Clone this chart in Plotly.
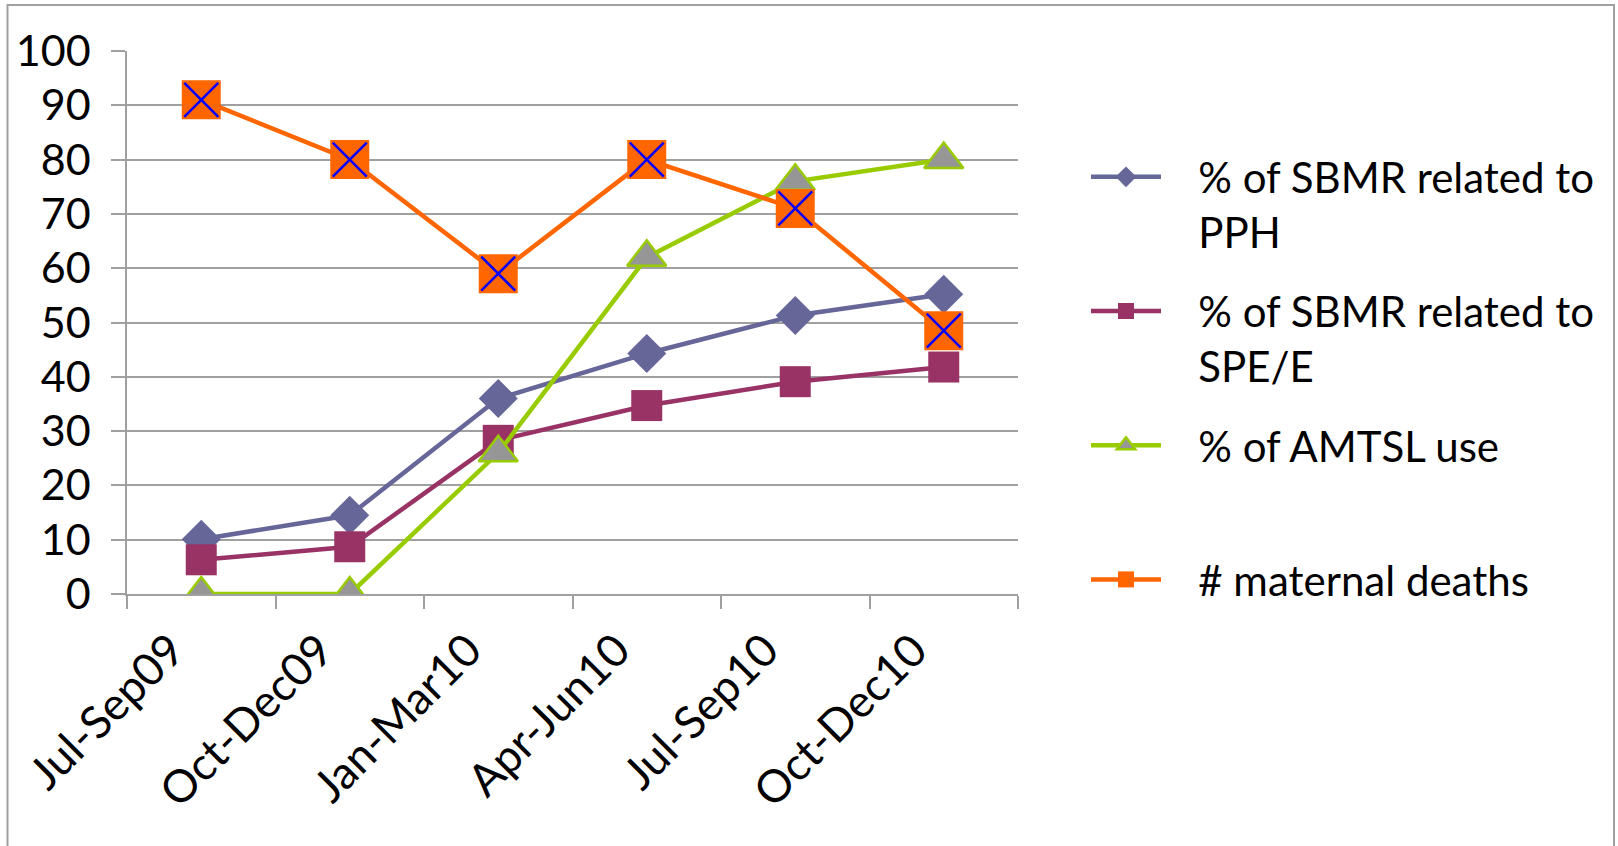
import plotly.graph_objects as go

categories = ["Jul-Sep09", "Oct-Dec09", "Jan-Mar10", "Apr-Jun10", "Jul-Sep10", "Oct-Dec10"]
pph = [10.1, 14.5, 36.0, 44.3, 51.3, 55.2]
spe = [6.3, 8.7, 28.3, 34.7, 39.1, 41.8]
amtsl = [0, 0, 26, 62, 76, 80]
deaths = [91, 80, 59, 80, 71, 48.5]
y_ticks = [0, 10, 20, 30, 40, 50, 60, 70, 80, 90, 100]

PAD = "   "
names = [PAD + "% of SBMR related to<br>" + PAD + "PPH",
         PAD + "% of SBMR related to<br>" + PAD + "SPE/E",
         PAD + "% of AMTSL use<br> ",
         PAD + "# maternal deaths"]

W, H = 1618, 846
L, R, T, B = 127, 1018, 51, 594
FONT = "Lato"
LW = 4.5

fig = go.Figure()
fig.add_trace(go.Scatter(x=categories, y=pph, name=names[0], mode="lines+markers",
                         line=dict(color="#666699", width=LW),
                         marker=dict(symbol="diamond", size=30, color="#666699"),
                         legendgroup="a"))
fig.add_trace(go.Scatter(x=categories, y=spe, name=names[1], mode="lines+markers",
                         line=dict(color="#993366", width=LW),
                         marker=dict(symbol="square", size=31, color="#993366"),
                         legendgroup="b"))
fig.add_trace(go.Scatter(x=categories, y=amtsl, name=names[2], mode="lines+markers",
                         line=dict(color="#99CC00", width=LW),
                         marker=dict(symbol="triangle-up", size=34, color="#969696",
                                     line=dict(color="#99CC00", width=2.5)),
                         legendgroup="c"))
fig.add_trace(go.Scatter(x=categories, y=deaths, name=names[3], mode="lines+markers",
                         line=dict(color="#FF6600", width=LW),
                         marker=dict(symbol="square", size=39, color="#FF6600"),
                         legendgroup="d"))
fig.add_trace(go.Scatter(x=categories, y=deaths, mode="markers", showlegend=False,
                         marker=dict(symbol="x-thin-open", size=34, color="#0000FF",
                                     line=dict(color="#0000FF", width=2.5)),
                         legendgroup="d", hoverinfo="skip"))

def px_x(p):
    return (p - L) / (R - L)

def px_y(p):
    return (B - p) / (B - T)

fig.add_shape(type="rect", xref="paper", yref="paper",
              x0=px_x(7.5), x1=px_x(1614), y0=px_y(870), y1=px_y(5),
              line=dict(color="#A0A0A0", width=2), fillcolor="rgba(0,0,0,0)", layer="below")

fig.update_layout(
    width=W, height=H,
    margin=dict(l=L, r=W - R, t=T, b=H - B, pad=0),
    paper_bgcolor="white", plot_bgcolor="white",
    font=dict(family=FONT, color="black"),
    showlegend=True,
    legend=dict(xref="container", yref="container", x=1086 / W, y=1 - 143 / H,
                xanchor="left", yanchor="top", valign="top",
                font=dict(family=FONT, size=42, color="black"),
                itemwidth=70, tracegroupgap=22, bgcolor="rgba(0,0,0,0)",
                traceorder="grouped", maxheight=700),
    xaxis=dict(type="category", range=[-0.5, 5.5], tickson="boundaries",
               ticks="outside", ticklen=13, tickwidth=1.5, tickcolor="#A0A0A0",
               showline=True, linecolor="#A0A0A0", linewidth=1.5,
               showgrid=False, zeroline=False, tickangle=-45,
               tickfont=dict(family=FONT, size=45, color="black"),
               ticklabelshift=-30, ticklabelstandoff=10,
               fixedrange=True),
    yaxis=dict(range=[0, 100], tickvals=y_ticks, ticks="outside", ticklen=14,
               tickwidth=1.5, tickcolor="#A0A0A0",
               showline=True, linecolor="#A0A0A0", linewidth=1.5,
               showgrid=True, gridcolor="#A0A0A0", gridwidth=1.5,
               zeroline=False, tickfont=dict(family=FONT, size=43, color="black"),
               ticklabelstandoff=12, fixedrange=True),
)

fig.write_html("out.html")
